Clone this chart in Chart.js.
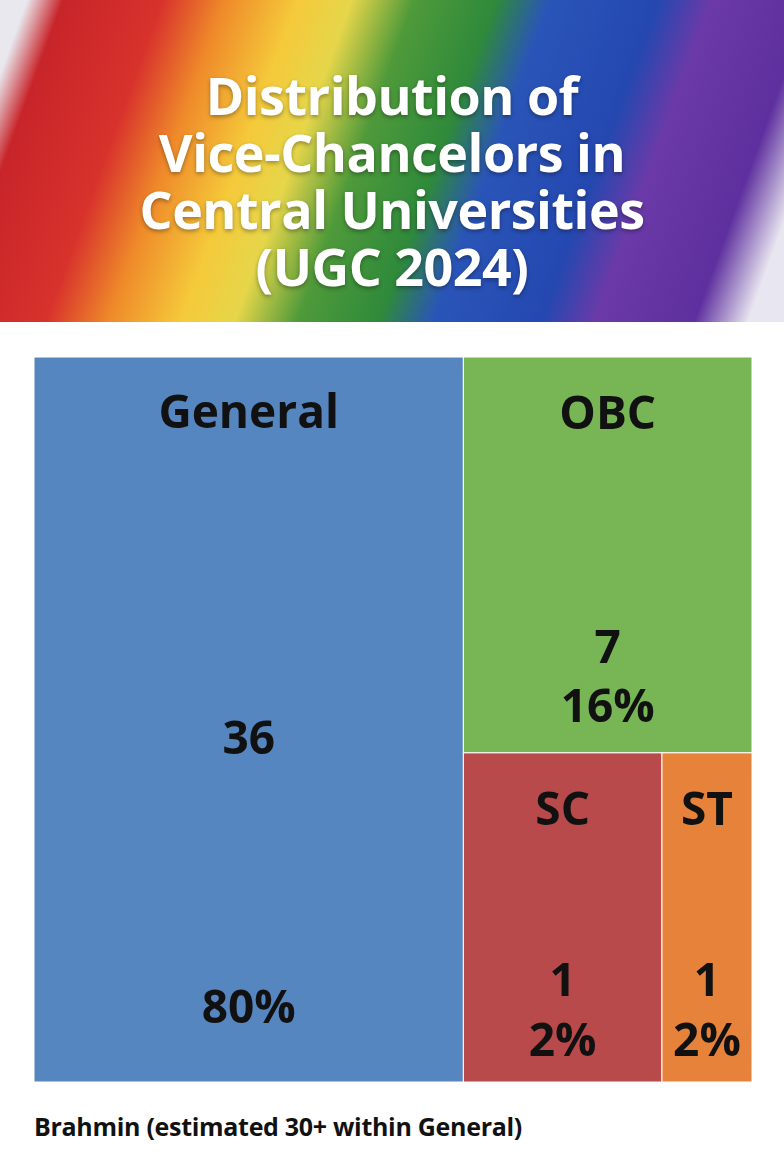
<!DOCTYPE html>
<html>
<head>
<meta charset="utf-8">
<script src="https://cdn.jsdelivr.net/npm/chart.js@4/dist/chart.umd.min.js"></script>
<style>
  body { margin: 0; width: 784px; height: 1168px; background: #fff; font-family: "Open Sans", sans-serif; position: relative; overflow: hidden; }
  .header {
    position: absolute; left: 0; top: 0; width: 784px; height: 322px;
    background: linear-gradient(110deg, #e8e8ee 0%, #e8e8ee 3%, #c8252a 7%, #d8322c 18%, #ef8a2a 25%, #f5c93a 33%, #e6d64a 39%, #4f9a3a 46%, #2f8a3a 55%, #2a55b8 61%, #2448b0 73%, #6b3aa8 79%, #5e2f9e 90%, #e8e6f0 96%);
  }
  .header h1 {
    margin: 0; padding-top: 66px; text-align: center; color: #fff;
    font-size: 52px; line-height: 57px; font-weight: 700; letter-spacing: -0.5px;
    text-shadow: 0 2px 4px rgba(0,0,0,0.35);
  }
  .chart-box { position: absolute; left: 34px; top: 357px; width: 718px; height: 725px; }
  .note { position: absolute; left: 34px; top: 1109px; font-size: 25px; font-weight: 700; color: #111; letter-spacing: -0.3px; }
</style>
</head>
<body>
<div class="header"><h1>Distribution of<br>Vice-Chancelors in<br>Central Universities<br>(UGC 2024)</h1></div>
<div class="chart-box"><canvas id="treemap"></canvas></div>
<div class="note">Brahmin (estimated 30+ within General)</div>
<script>
// Data
const categories = ["General", "OBC", "SC", "ST"];
const counts = [36, 7, 1, 1];
const percents = ["80%", "16%", "2%", "2%"];
const colors = ["#5686c0", "#78b655", "#b84a4b", "#e7823a"];

// Layout split fractions (as drawn in the reference, in axis units 0..100)
const splitGeneral = 59.8;   // x boundary General | rest
const splitOBC = 54.6;       // y boundary OBC | SC/ST (from top)
const splitSC = 68.8;        // x boundary SC | ST within right part (% of right part)

function cellBounds() {
  const scX = splitGeneral + (100 - splitGeneral) * splitSC / 100;
  return [
    { x0: 0, x1: splitGeneral, y0: 100, y1: 0 },
    { x0: splitGeneral, x1: 100, y0: 100, y1: 100 - splitOBC },
    { x0: splitGeneral, x1: scX, y0: 100 - splitOBC, y1: 0 },
    { x0: scX, x1: 100, y0: 100 - splitOBC, y1: 0 },
  ];
}

// text placement inside each cell, as fraction of cell height from top
const textSpots = [
  { name: 0.08, count: 0.53, pct: 0.9 },
  { name: 0.15, count: 0.74, pct: 0.89 },
  { name: 0.18, count: 0.7, pct: 0.88 },
  { name: 0.18, count: 0.7, pct: 0.88 },
];

const treemapPlugin = {
  id: "treemap",
  afterDatasetsDraw(chart) {
    const { ctx, scales: { x, y } } = chart;
    const cells = cellBounds();
    ctx.save();
    cells.forEach((c, i) => {
      const left = x.getPixelForValue(c.x0);
      const right = x.getPixelForValue(c.x1);
      const top = y.getPixelForValue(c.y0);
      const bottom = y.getPixelForValue(c.y1);
      ctx.fillStyle = colors[i];
      ctx.fillRect(left, top, right - left, bottom - top);
      ctx.strokeStyle = "#ffffff";
      ctx.lineWidth = 1;
      ctx.strokeRect(left, top, right - left, bottom - top);

      const cx = (left + right) / 2;
      const h = bottom - top;
      const spot = textSpots[i];
      ctx.fillStyle = "#111";
      ctx.textAlign = "center";
      ctx.textBaseline = "middle";
      ctx.font = "bold 46px 'Open Sans', sans-serif";
      ctx.fillText(categories[i], cx, top + h * spot.name);
      ctx.fillText(String(counts[i]), cx, top + h * spot.count);
      ctx.fillText(percents[i], cx, top + h * spot.pct);
    });
    ctx.restore();
  },
};

new Chart(document.getElementById("treemap"), {
  type: "scatter",
  data: { datasets: [{ data: [], pointRadius: 0 }] },
  options: {
    responsive: true,
    maintainAspectRatio: false,
    animation: false,
    layout: { padding: 0 },
    plugins: { legend: { display: false }, tooltip: { enabled: false } },
    scales: {
      x: { type: "linear", min: 0, max: 100, display: false },
      y: { type: "linear", min: 0, max: 100, display: false },
    },
  },
  plugins: [treemapPlugin],
});
</script>
</body>
</html>
